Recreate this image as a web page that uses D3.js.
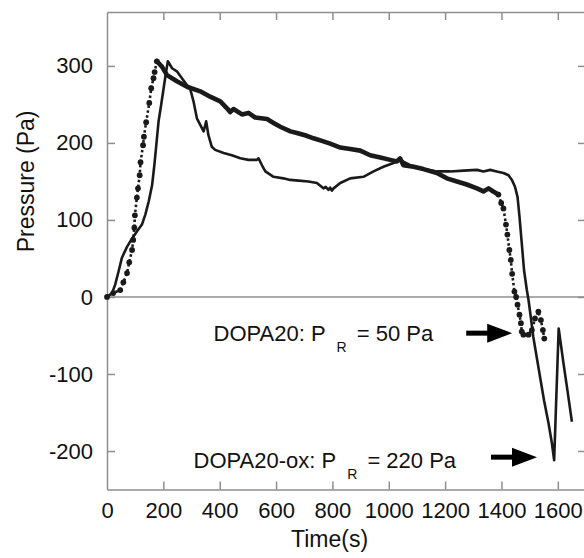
<!DOCTYPE html>
<html>
<head>
<meta charset="utf-8">
<script src="https://cdn.jsdelivr.net/npm/d3@7"></script>
<style>
  body { margin: 0; background: #fff; }
  svg { font-family: "Liberation Sans", Arial, sans-serif; }
</style>
</head>
<body>
<div id="chart"></div>
<script>
// DOPA20: dotted series with markers (time s, pressure Pa)
const dopa20 = [
  [0,0],[22,5],[47,9],[58,19],[71,31],[79,45],[89,61],[93,74],[97,90],[99,106],[106,129],[110,141],
  [116,158],[119,175],[128,197],[131,208],[139,227],[150,252],[157,271],[165,284],[169,292],[177,306],
  [195,299],[213,288],[248,280],[284,273],[331,267],[366,260],[402,254],[426,245],[437,240],[449,244],
  [479,237],[502,239],[526,233],[568,231],[591,226],[615,221],[651,215],[674,213],[703,210],[733,206],
  [768,202],[792,199],[828,194],[863,192],[899,190],[934,184],[970,181],[1005,178],[1029,176],[1040,180],
  [1052,171],[1088,169],[1123,166],[1171,161],[1206,154],[1242,150],[1277,146],[1313,141],[1336,137],
  [1354,141],[1371,137],[1389,133],
  [1399,122],[1407,115],[1416,94],[1421,81],[1428,61],[1433,48],[1438,30],[1446,7],[1452,0],[1457,-10],
  [1464,-23],[1469,-34],[1472,-45],[1478,-49],[1496,-49],[1508,-43],[1519,-28],[1531,-19],[1540,-30],
  [1547,-43],[1552,-54]
];

// DOPA20-ox: solid series
const dopa20ox = [
  [0,0],[18,5],[29,16],[41,33],[53,51],[71,65],[89,76],[106,85],[124,94],[136,107],[148,124],[160,145],
  [168,171],[175,197],[183,228],[192,249],[201,271],[210,293],[216,306],[231,297],[248,293],[266,284],
  [284,275],[296,269],[307,254],[319,232],[343,215],[352,228],[360,210],[372,195],[384,191],[414,187],
  [443,184],[473,180],[502,178],[532,178],[538,180],[550,171],[562,163],[591,156],[626,154],[650,152],
  [680,151],[715,150],[745,148],[768,141],[776,143],[786,139],[792,142],[798,138],[804,141],[828,148],
  [863,154],[910,156],[946,163],[981,169],[1017,174],[1040,178],[1076,171],[1123,166],[1171,163],
  [1218,163],[1265,164],[1313,165],[1336,163],[1360,165],[1383,163],[1407,161],[1425,158],[1437,152],
  [1448,143],[1457,130],[1464,104],[1472,70],[1480,35],[1490,9],[1496,-4],[1504,-26],[1513,-52],
  [1525,-78],[1537,-104],[1551,-134],[1567,-164],[1579,-190],[1587,-212],[1603,-41],[1620,-86],
  [1634,-121],[1650,-162]
];

const xTicks = [0, 200, 400, 600, 800, 1000, 1200, 1400, 1600];
const yTicks = [300, 200, 100, 0, -100, -200];

// annotations: label parts and arrow tip (time, pressure)
const notes = [
  { name: "DOPA20: P", sub: "R", rest: " = 50 Pa", t: 378, p: -57, tipT: 1438, tipP: -47 },
  { name: "DOPA20-ox: P", sub: "R", rest: " = 220 Pa", t: 307, p: -222, tipT: 1526, tipP: -208 }
];

const margin = { top: 12, left: 107 },
    width = 479,
    height = 477.5;

const axisColor = "#8e8e8e";
const ink = "#1a1a1a";

const svg = d3.select("#chart").append("svg")
    .attr("width", 584)
    .attr("height", 558);

const g = svg.append("g")
    .attr("transform", `translate(${margin.left}, ${margin.top})`);

const x = d3.scaleLinear().domain([0, 1700]).range([0, width]);
const y = d3.scaleLinear().domain([-250, 370]).range([height, 0]);

// zero line
g.append("line")
    .attr("x1", 0).attr("x2", width)
    .attr("y1", y(0)).attr("y2", y(0))
    .attr("stroke", axisColor).attr("stroke-width", 1.5);

// axes, ticks pointing inwards
const fmt = d => String(d);
const axBottom = g.append("g")
    .attr("transform", `translate(0, ${height})`)
    .call(d3.axisBottom(x).tickValues(xTicks).tickSizeInner(-8).tickSizeOuter(0).tickPadding(13).tickFormat(fmt));
const axTop = g.append("g")
    .call(d3.axisTop(x).tickValues(xTicks.slice(1)).tickSizeInner(-8).tickSizeOuter(0).tickFormat(""));
const axLeft = g.append("g")
    .call(d3.axisLeft(y).tickValues(yTicks).tickSizeInner(-8).tickSizeOuter(0).tickPadding(14).tickFormat(fmt));
const axRight = g.append("g")
    .attr("transform", `translate(${width}, 0)`)
    .call(d3.axisRight(y).tickValues(yTicks).tickSizeInner(-8).tickSizeOuter(0).tickFormat(""));

[axBottom, axTop, axLeft, axRight].forEach(a => {
    a.selectAll("path, line").attr("stroke", axisColor).attr("stroke-width", 1.5);
    a.selectAll("text").attr("fill", "#111").attr("font-size", "22px")
        .attr("font-family", "'Liberation Sans', Arial, sans-serif");
});
axBottom.selectAll(".tick").filter(d => d === 0).select("line").remove();

// axis titles
g.append("text")
    .attr("x", x(790))
    .attr("y", height + 57)
    .attr("text-anchor", "middle")
    .attr("font-size", "23px")
    .attr("fill", "#111")
    .text("Time(s)");

g.append("text")
    .attr("x", -(y(150)))
    .attr("y", -73)
    .attr("text-anchor", "middle")
    .attr("transform", "rotate(-90)")
    .attr("font-size", "23px")
    .attr("fill", "#111")
    .text("Pressure (Pa)");

const line = d3.line().x(d => x(d[0])).y(d => y(d[1]));

// DOPA20-ox solid line
g.append("path")
    .datum(dopa20ox)
    .attr("d", line)
    .attr("fill", "none")
    .attr("stroke", ink)
    .attr("stroke-width", 2.6)
    .attr("stroke-linejoin", "round");

// DOPA20: sparse samples as dotted line with markers, dense middle as a heavy line
const riseEnd = 177, fallStart = 1389;
const sparse = dopa20.filter(d => d[0] <= riseEnd || d[0] >= fallStart);
const dense = dopa20.filter(d => d[0] >= riseEnd && d[0] <= fallStart);

[dopa20.filter(d => d[0] <= riseEnd), dopa20.filter(d => d[0] >= fallStart)].forEach(seg => {
    g.append("path")
        .datum(seg)
        .attr("d", line)
        .attr("fill", "none")
        .attr("stroke", ink)
        .attr("stroke-width", 2.6)
        .attr("stroke-dasharray", "2.5,2.5");
});

g.append("path")
    .datum(dense)
    .attr("d", line)
    .attr("fill", "none")
    .attr("stroke", ink)
    .attr("stroke-width", 4.6)
    .attr("stroke-linejoin", "round")
    .attr("stroke-linecap", "round");

g.selectAll("circle.mk")
    .data(sparse)
    .enter().append("circle")
    .attr("class", "mk")
    .attr("cx", d => x(d[0]))
    .attr("cy", d => y(d[1]))
    .attr("r", 2.9)
    .attr("fill", ink);

// annotations with arrows
notes.forEach(n => {
    const t = g.append("text")
        .attr("x", x(n.t))
        .attr("y", y(n.p))
        .attr("font-size", "22px")
        .attr("fill", "#111");
    t.append("tspan").text(n.name);
    t.append("tspan").attr("dx", 11).attr("dy", 11).attr("font-size", "14px").text(n.sub);
    t.append("tspan").attr("dx", 4).attr("dy", -11).text(n.rest);

    const tx = x(n.tipT), ty = y(n.tipP);
    g.append("line")
        .attr("x1", tx - 46).attr("x2", tx - 22)
        .attr("y1", ty).attr("y2", ty)
        .attr("stroke", "#000").attr("stroke-width", 5);
    g.append("path")
        .attr("d", `M${tx},${ty} L${tx - 25},${ty - 9.5} L${tx - 25},${ty + 9.5} Z`)
        .attr("fill", "#000");
});
</script>
</body>
</html>
